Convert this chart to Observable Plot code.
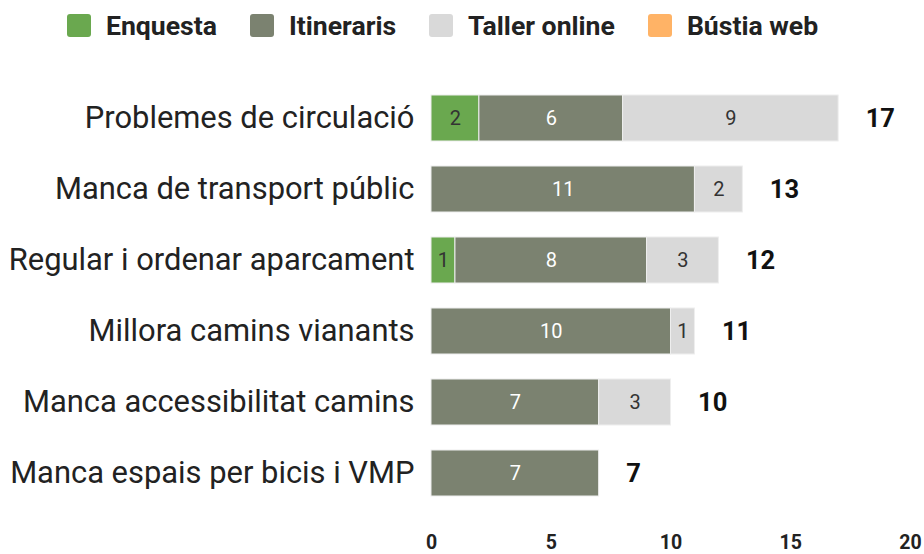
<!DOCTYPE html>
<html>
<head>
<meta charset="utf-8">
<script src="https://cdn.jsdelivr.net/npm/d3@7"></script>
<script src="https://cdn.jsdelivr.net/npm/@observablehq/plot@0.6"></script>
<style>
  html, body { margin: 0; padding: 0; background: #fff; font-family: Roboto, sans-serif; }
  #legend { height: 62px; display: flex; align-items: center; padding-left: 67px; box-sizing: border-box; padding-bottom: 12px; }
  .item { display: flex; align-items: center; margin-right: 33px; font-weight: 700; font-size: 26.6px; color: #222; }
  .sw { width: 24px; height: 23px; border-radius: 3px; margin-right: 15px; }
  #chart svg { font-family: Roboto, sans-serif; display: block; }
  #chart [aria-label^="y-axis"] text { font-size: 30.9px; fill: #222; }
  #chart [aria-label^="x-axis"] text { font-size: 19.5px; font-weight: 700; fill: #222; }
</style>
</head>
<body>
<div id="legend"></div>
<div id="chart"></div>
<script>
const categories = [
  "Problemes de circulació",
  "Manca de transport públic",
  "Regular i ordenar aparcament",
  "Millora camins vianants",
  "Manca accessibilitat camins",
  "Manca espais per bicis i VMP"
];
const series = ["Enquesta", "Itineraris", "Taller online", "Bústia web"];
const colors = ["#6aa84f", "#7b8270", "#d9d9d9", "#ffb366"];
const enquesta = [2, 0, 1, 0, 0, 0];
const itineraris = [6, 11, 8, 10, 7, 7];
const taller = [9, 2, 3, 1, 3, 0];
const bustia = [0, 0, 0, 0, 0, 0];
const xTicks = [0, 5, 10, 15, 20];

const seriesValues = [enquesta, itineraris, taller, bustia];
const rows = [];
series.forEach((s, si) => {
  categories.forEach((c, ci) => {
    const v = seriesValues[si][ci];
    if (v > 0) rows.push({cat: c, series: s, value: v});
  });
});
const totals = categories.map((c, ci) => ({cat: c, total: seriesValues.reduce((a, arr) => a + arr[ci], 0)}));

// legend
const legend = document.getElementById("legend");
series.forEach((s, i) => {
  const it = document.createElement("div");
  it.className = "item";
  const sw = document.createElement("div");
  sw.className = "sw";
  sw.style.background = colors[i];
  it.appendChild(sw);
  it.appendChild(document.createTextNode(s));
  legend.appendChild(it);
});

const stackOpts = {x: "value", y: "cat", order: series};
const chart = Plot.plot({
  width: 924,
  height: 492,
  marginLeft: 431,
  marginRight: 14,
  marginTop: 7,
  marginBottom: 32,
  x: {domain: [0, 20], ticks: xTicks, tickSize: 0, tickPadding: 13, label: null},
  y: {domain: categories, padding: 0.355, tickSize: 0, tickPadding: 17, label: null},
  color: {domain: series, range: colors},
  marks: [
    Plot.barX(rows, Plot.stackX({...stackOpts, fill: "series", z: "series", stroke: "#eeeeee", strokeWidth: 1})),
    Plot.text(rows, Plot.stackX({...stackOpts, z: "series", text: d => d.series === "Itineraris" ? String(d.value) : "", fill: "white", fontSize: 20})),
    Plot.text(rows, Plot.stackX({...stackOpts, z: "series", text: d => d.series !== "Itineraris" ? String(d.value) : "", fill: "#333", fontSize: 20})),
    Plot.text(totals, {x: "total", y: "cat", text: d => String(d.total), textAnchor: "start", dx: 27, fontSize: 25.5, fontWeight: 700, fill: "#111"})
  ]
});
document.getElementById("chart").appendChild(chart);
</script>
</body>
</html>
